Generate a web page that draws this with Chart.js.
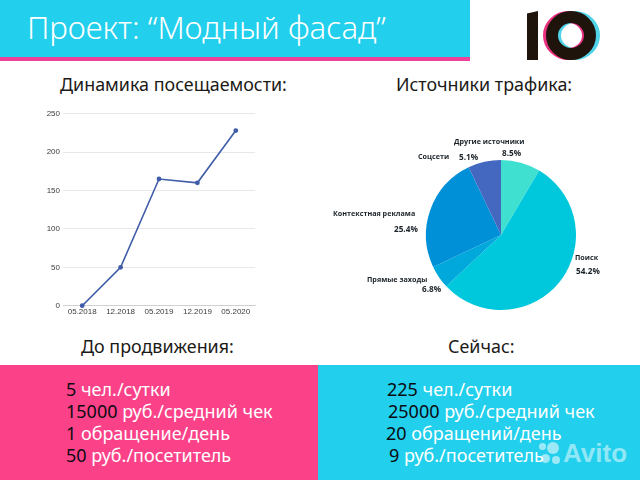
<!DOCTYPE html>
<html lang="ru"><head><meta charset="utf-8">
<script src="https://cdn.jsdelivr.net/npm/chart.js@4/dist/chart.umd.min.js"></script>
<style>
html,body{margin:0;padding:0;background:#fff;width:640px;height:480px;overflow:hidden;font-family:"Noto Sans",sans-serif}
.t{position:absolute;white-space:nowrap;line-height:1}
.box{position:absolute}
.h{font-size:17.9px;color:#1c1a17;font-weight:400}
.p{font-size:7.2px;font-weight:700;font-family:"Open Sans",sans-serif;color:#1a2229}
.n{font-size:8.2px}
.r{font-size:18px;color:#fff}
.r b{font-weight:400;color:#0b0b12}
.d{position:absolute;border-radius:50%;background:rgba(255,255,255,.55)}
canvas{position:absolute}
</style></head><body>
<div class="box" style="left:0;top:0;width:470px;height:57px;background:#22cfec"></div>
<div class="box" style="left:0;top:57px;width:470px;height:4px;background:#f0409a"></div>
<div class="t" style="left:27px;top:12px;font-size:31.2px;color:#fff;font-weight:300">Проект: “Модный фасад”</div>

<div class="box" style="left:527px;top:11px;width:11px;height:49px;background:#1e140c;clip-path:polygon(0 5%,100% 0,100% 100%,0 100%)"></div>
<div class="box" style="left:549px;top:11px;width:51px;height:49px;box-sizing:border-box;border:12px solid #4fd3e8;border-radius:50%"></div>
<div class="box" style="left:543px;top:11px;width:51px;height:49px;box-sizing:border-box;border:12px solid #e8317f;border-radius:50%"></div>
<div class="box" style="left:546px;top:11px;width:50px;height:49px;box-sizing:border-box;border:12px solid #1e140c;border-radius:50%"></div>

<div class="t h" style="left:60px;top:76px">Динамика посещаемости:</div>
<div class="t h" style="left:396px;top:76px">Источники трафика:</div>
<div class="t h" style="left:81px;top:338px">До продвижения:</div>
<div class="t h" style="left:448px;top:338px">Сейчас:</div>

<canvas id="line" style="left:30px;top:100px"></canvas>
<canvas id="pie" style="left:409px;top:145px"></canvas>

<div class="t p" style="left:454px;top:138px">Другие источники</div>
<div class="t p n" style="left:502px;top:149px">8.5%</div>
<div class="t p" style="left:418px;top:153px">Соцсети</div>
<div class="t p n" style="left:459px;top:153px">5.1%</div>
<div class="t p" style="left:333px;top:210px">Контекстная реклама</div>
<div class="t p n" style="left:394px;top:225px">25.4%</div>
<div class="t p" style="left:367px;top:276px">Прямые заходы</div>
<div class="t p n" style="left:422px;top:285px">6.8%</div>
<div class="t p" style="left:575px;top:254px">Поиск</div>
<div class="t p n" style="left:576px;top:267px">54.2%</div>

<div class="box" style="left:0;top:365px;width:318px;height:115px;background:#fb4289"></div>
<div class="box" style="left:318px;top:365px;width:322px;height:115px;background:#22cfec"></div>

<div class="t r" style="left:66px;top:380px"><b>5</b> чел./сутки</div>
<div class="t r" style="left:66px;top:402px"><b>15000</b> руб./средний чек</div>
<div class="t r" style="left:66px;top:424px"><b>1</b> обращение/день</div>
<div class="t r" style="left:66px;top:446px"><b>50</b> руб./посетитель</div>
<div class="t r" style="left:387px;top:380px"><b>225</b> чел./сутки</div>
<div class="t r" style="left:388px;top:402px"><b>25000</b> руб./средний чек</div>
<div class="t r" style="left:386px;top:424px"><b>20</b> обращений/день</div>
<div class="t r" style="left:389px;top:446px"><b>9</b> руб./посетитель</div>

<div class="d" style="left:547px;top:442px;width:12px;height:12px"></div>
<div class="d" style="left:539px;top:443px;width:7px;height:7px"></div>
<div class="d" style="left:541px;top:454px;width:9px;height:9px"></div>
<div class="d" style="left:552px;top:456px;width:8px;height:8px"></div>
<div class="t" style="left:563px;top:440px;font-size:26px;font-weight:700;color:rgba(255,255,255,.5);font-family:'Liberation Sans'">Avito</div>

<script>
const lineLabels=["05.2018","12.2018","05.2019","12.2019","05.2020"];
const visits=[0,50,165,160,228];
const yTicks=[0,50,100,150,200,250];
const sliceLabels=["Другие источники","Поиск","Прямые заходы","Контекстная реклама","Соцсети"];
const sliceValues=[8.5,54.5,5,24.9,7.1];
const sliceColors=["#3fe0d0","#00c8dc","#00a8dc","#0090d8","#4468c0"];
Chart.defaults.animation=false;
Chart.defaults.responsive=false;
Chart.defaults.devicePixelRatio=1;
document.getElementById("line").width=240;document.getElementById("line").height=230;
document.getElementById("pie").width=184;document.getElementById("pie").height=180;
new Chart(document.getElementById("line"),{type:"line",
 data:{labels:lineLabels,datasets:[{data:visits,borderColor:"#3f5ca8",backgroundColor:"#3f5ca8",borderWidth:1.6,pointRadius:1.6,tension:0,clip:false}]},
 options:{plugins:{legend:{display:false},tooltip:{enabled:false}},
  layout:{padding:{top:13.7,right:15}},
  scales:{
   x:{offset:true,afterFit:s=>{s.height=24.3},grid:{display:false,drawTicks:false,tickLength:0},border:{color:"#d0d0d0"},ticks:{color:"#3c3c3c",font:{family:"Liberation Sans",size:8},maxRotation:0,autoSkip:false,padding:1}},
   y:{min:0,max:250,afterFit:s=>{s.width=33},afterBuildTicks:a=>{a.ticks=yTicks.map(v=>({value:v}))},grid:{color:"#e8e8e8",drawTicks:false},border:{display:false},ticks:{color:"#3c3c3c",font:{family:"Liberation Sans",size:8},padding:3}}
  }}
});
new Chart(document.getElementById("pie"),{type:"pie",
 data:{labels:sliceLabels,datasets:[{data:sliceValues,backgroundColor:sliceColors,borderWidth:0}]},
 options:{radius:75,plugins:{legend:{display:false},tooltip:{enabled:false}},layout:{padding:0}}
});
</script>
</body></html>
